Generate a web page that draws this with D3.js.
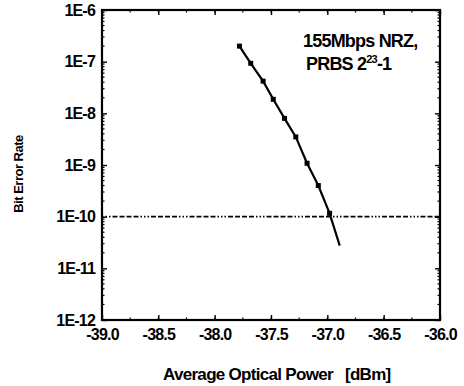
<!DOCTYPE html>
<html>
<head>
<meta charset="utf-8">
<script src="https://cdn.jsdelivr.net/npm/d3@7"></script>
<style>
  body { margin: 0; background: #fff; }
  svg { display: block; }
  .tick text { font-family: Arial, "Liberation Sans", sans-serif; font-size: 16px; font-weight: bold; letter-spacing: -0.8px; fill: #000; }
  .axis path { display: none; }
  .axis line { stroke: #000; stroke-width: 1.4; }
  .lbl { font-family: Arial, "Liberation Sans", sans-serif; font-weight: bold; fill: #000; }
</style>
</head>
<body>
<svg id="chart"></svg>
<script>
// received optical power (dBm) and measured bit error rate
const power = [-37.78, -37.68, -37.57, -37.48, -37.38, -37.28, -37.18, -37.08, -36.98, -36.89];
const ber = [2.0e-7, 9.3e-8, 4.2e-8, 1.87e-8, 8.0e-9, 3.5e-9, 1.08e-9, 4.0e-10, 1.16e-10, 2.75e-11];
// last point is the extrapolated end of the curve, drawn without a marker
const marked = [true, true, true, true, true, true, true, true, true, false];
const xTicks = [-39.0, -38.5, -38.0, -37.5, -37.0, -36.5, -36.0];
const xTickLabels = ['-39.0', '-38.5', '-38.0', '-37.5', '-37.0', '-36.5', '-36.0'];
const yTicks = [1e-12, 1e-11, 1e-10, 1e-9, 1e-8, 1e-7, 1e-6];
const yTickLabels = ['1E-12', '1E-11', '1E-10', '1E-9', '1E-8', '1E-7', '1E-6'];
const threshold = 1e-10;

const W = 464, H = 386;
const margin = { top: 10, right: 24, bottom: 66, left: 102 };
const width = W - margin.left - margin.right;
const height = H - margin.top - margin.bottom;

const svg = d3.select('#chart').attr('width', W).attr('height', H);
const g = svg.append('g').attr('transform', 'translate(' + margin.left + ',' + margin.top + ')');

const x = d3.scaleLinear().domain([-39, -36]).range([0, width]);
const y = d3.scaleLog().domain([1e-12, 1e-6]).range([height, 0]);

// minor ticks
const xMinor = d3.range(-39, -35.99, 0.25);
const yMinor = [];
for (let e = -12; e < -6; e++) {
    for (let k = 2; k <= 9; k++) yMinor.push(k * Math.pow(10, e));
}

function minorX(sel, y0, dir) {
    sel.selectAll('line').data(xMinor).enter().append('line')
        .attr('x1', d => x(d)).attr('x2', d => x(d))
        .attr('y1', y0).attr('y2', y0 + dir * 2.5)
        .attr('stroke', '#000').attr('stroke-width', 1.2);
}
function minorY(sel, x0, dir) {
    sel.selectAll('line').data(yMinor).enter().append('line')
        .attr('x1', x0).attr('x2', x0 + dir * 2.5)
        .attr('y1', d => y(d)).attr('y2', d => y(d))
        .attr('stroke', '#000').attr('stroke-width', 1.2);
}

g.append('g').call(minorX, height, -1);
g.append('g').call(minorX, 0, 1);
g.append('g').call(minorY, 0, 1);
g.append('g').call(minorY, width, -1);

const xAxis = d3.axisBottom(x).tickValues(xTicks).tickFormat((d, i) => xTickLabels[i])
    .tickSizeInner(-5).tickSizeOuter(0).tickPadding(9);
const yAxis = d3.axisLeft(y).tickValues(yTicks).tickFormat((d, i) => yTickLabels[i])
    .tickSizeInner(-5).tickSizeOuter(0).tickPadding(7);

g.append('g').attr('class', 'x axis')
    .attr('transform', 'translate(0,' + height + ')')
    .call(xAxis);
g.append('g').attr('class', 'y axis')
    .call(yAxis);

// mirrored ticks top and right
g.append('g').attr('class', 'axis')
    .call(d3.axisTop(x).tickValues(xTicks).tickSizeInner(-5).tickSizeOuter(0).tickFormat(''));
g.append('g').attr('class', 'axis')
    .attr('transform', 'translate(' + width + ',0)')
    .call(d3.axisRight(y).tickValues(yTicks).tickSizeInner(-5).tickSizeOuter(0).tickFormat(''));

// frame
g.append('rect')
    .attr('x', 0).attr('y', 0).attr('width', width).attr('height', height)
    .attr('fill', 'none').attr('stroke', '#000').attr('stroke-width', 2.2);

// 1E-10 reference line
g.append('line')
    .attr('x1', x(-39)).attr('x2', x(-36))
    .attr('y1', y(threshold)).attr('y2', y(threshold))
    .attr('stroke', '#000').attr('stroke-width', 1.8)
    .attr('stroke-dasharray', '1.5,2,1.5,2,1.5,2,5,2,5,2,5,2,5,2');

const pts = power.map((p, i) => ({ p: p, b: ber[i], m: marked[i] }));

g.append('path')
    .datum(pts)
    .attr('fill', 'none')
    .attr('stroke', '#000')
    .attr('stroke-width', 2.2)
    .attr('d', d3.line().x(d => x(d.p)).y(d => y(d.b)));

g.selectAll('.pt').data(pts.filter(d => d.m)).enter().append('rect')
    .attr('class', 'pt')
    .attr('x', d => x(d.p) - 2.5)
    .attr('y', d => y(d.b) - 2.5)
    .attr('width', 5).attr('height', 5)
    .attr('fill', '#000');

// legend text
const leg = svg.append('text').attr('class', 'lbl').attr('font-size', 18).style('letter-spacing', '-0.8px');
leg.append('tspan').attr('x', 303).attr('y', 47).text('155Mbps NRZ,');
const l2 = leg.append('tspan').attr('x', 306).attr('y', 70).text('PRBS 2');
l2.append('tspan').attr('font-size', 11).attr('dy', -7).text('23');
leg.append('tspan').attr('dy', 7).text('-1');

// axis titles
svg.append('text').attr('class', 'lbl')
    .attr('font-size', 17)
    .style('letter-spacing', '-0.7px')
    .attr('x', 163).attr('y', 380)
    .attr('xml:space', 'preserve')
    .style('white-space', 'pre')
    .text('Average Optical Power   [dBm]');

svg.append('text').attr('class', 'lbl')
    .attr('font-size', 13)
    .style('letter-spacing', '-0.5px')
    .attr('transform', 'translate(23,174) rotate(-90)')
    .attr('text-anchor', 'middle')
    .text('Bit Error Rate');
</script>
</body>
</html>
